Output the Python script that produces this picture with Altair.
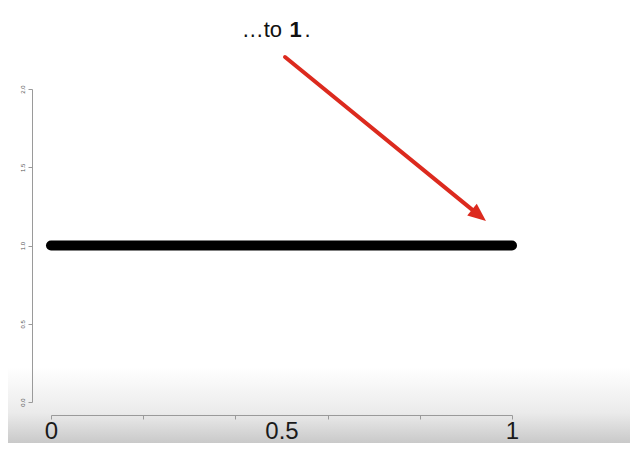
import altair as alt
import pandas as pd

# data
line_x = [0.0, 1.0]
line_y = [1.0, 1.0]
x_ticks = [0.0, 0.2, 0.4, 0.6, 0.8, 1.0]
x_labels = [0.0, 0.5, 1.0]
y_ticks = [0.0, 0.5, 1.0, 1.5, 2.0]
arrow_x = [0.5076, 0.9267]
arrow_y = [2.2045, 1.197]
arrow_tip_x = [0.9436]
arrow_tip_y = [1.1565]
title_parts = ["\u2026to", "1", "."]
title_x = [0.5, 0.5, 0.5]
title_y = [2.335, 2.335, 2.335]

W, H = 461, 313
PAD = {"left": 43, "top": 81, "right": 118, "bottom": 41}

xs = alt.Scale(domain=[0, 1], nice=False, zero=False)
ys = alt.Scale(domain=[0, 2], nice=False, zero=False)

line_df = pd.DataFrame({"x": line_x, "y": line_y})
arrow_df = pd.DataFrame({"x": arrow_x, "y": arrow_y})
tip_df = pd.DataFrame({"x": arrow_tip_x, "y": arrow_tip_y})


def X(**kw):
    return alt.X("x:Q", scale=xs, axis=None, **kw)


def Y(**kw):
    return alt.Y("y:Q", scale=ys, axis=None, **kw)


# background gradient (video frame look)
bg = alt.Chart(pd.DataFrame({"a": [0]})).mark_rect(
    fill=alt.Gradient(
        gradient="linear",
        stops=[
            alt.GradientStop(color="#ffffff", offset=0),
            alt.GradientStop(color="#ebebeb", offset=0.6),
            alt.GradientStop(color="#c9c9c9", offset=1),
        ],
        x1=0, x2=0, y1=0, y2=1,
    ),
    strokeWidth=0,
).encode(
    x=alt.value(-43), x2=alt.value(W + 118),
    y=alt.value(367 - 89), y2=alt.value(H + 41),
)

# tick-only x axis + y axis
x_axis_ticks = alt.Chart(line_df).mark_point(opacity=0).encode(
    x=alt.X("x:Q", scale=xs, axis=alt.Axis(
        values=x_ticks, labels=False, title=None, grid=False, orient="bottom",
        offset=13, tickSize=4, domainColor="#9a9a9a", tickColor="#9a9a9a",
        domainWidth=1, tickWidth=1, zindex=1)),
    y=alt.Y("y:Q", scale=ys, axis=alt.Axis(
        values=y_ticks, title=None, grid=False, offset=19, tickSize=4,
        format=".1f", labelAngle=270, labelFontSize=6, labelColor="#555",
        labelFont="Liberation Sans", labelPadding=6, labelBaseline="middle",
        labelAlign="center",
        domainColor="#9a9a9a", tickColor="#9a9a9a", zindex=1)),
)

# label-only x axis
x_axis_labels = alt.Chart(line_df).mark_point(opacity=0).encode(
    x=alt.X("x:Q", scale=xs, axis=alt.Axis(
        values=x_labels, ticks=False, domain=False, title=None, grid=False,
        orient="bottom", offset=13, labelFontSize=24, labelColor="#1a1a1a",
        labelFont="Liberation Sans", labelPadding=4,
        labelExpr="datum.value == 0.5 ? '0.5' : format(datum.value, 'd')",
        labelFlush=False, zindex=1)),
)

density = alt.Chart(line_df).mark_line(
    color="black", strokeWidth=10, strokeCap="round"
).encode(x=X(), y=Y())

arrow = alt.Chart(arrow_df).mark_line(
    color="#dc2a1e", strokeWidth=4, strokeCap="round", clip=False
).encode(x=X(), y=Y())

tip = alt.Chart(tip_df).mark_point(
    shape="M0,0L-0.42,1L0.42,1Z", filled=True, color="#dc2a1e",
    opacity=1, size=1300, angle=129, clip=False
).encode(x=X(), y=Y())

title_df = pd.DataFrame({"t": title_parts, "x": title_x, "y": title_y})
t1 = alt.Chart(title_df.iloc[[0]]).mark_text(
    font="Liberation Sans", fontSize=22, color="#111", align="right",
    baseline="alphabetic", dx=0.5
).encode(x=X(), y=Y(), text="t:N")
t2 = alt.Chart(title_df.iloc[[1]]).mark_text(
    font="Liberation Sans", fontSize=22, fontWeight="bold", color="#111",
    align="left", baseline="alphabetic", dx=8
).encode(x=X(), y=Y(), text="t:N")
t3 = alt.Chart(title_df.iloc[[2]]).mark_text(
    font="Liberation Sans", fontSize=22, color="#111",
    align="left", baseline="alphabetic", dx=23
).encode(x=X(), y=Y(), text="t:N")

chart = alt.layer(
    bg, x_axis_ticks, x_axis_labels, density, arrow, tip, t1, t2, t3
).resolve_axis(x="independent", y="independent").properties(
    width=W, height=H, padding=PAD, autosize=alt.AutoSizeParams(type="none"),
    background="white",
).configure_view(stroke=None).configure_axis(labelFont="Liberation Sans")

chart.save("out.html", embed_options={"renderer": "svg", "actions": False})
